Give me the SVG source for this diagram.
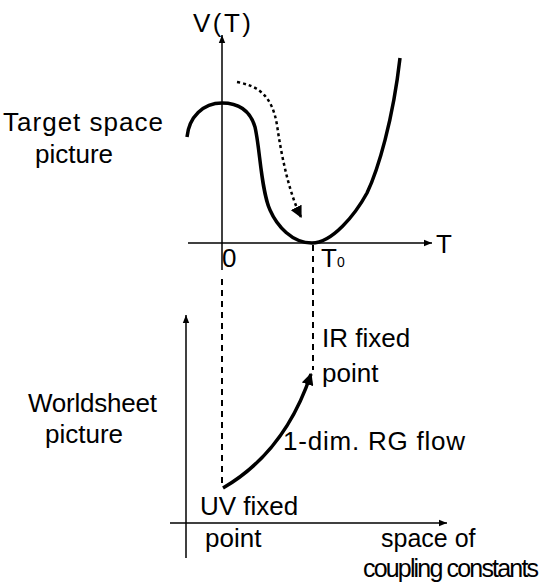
<svg xmlns="http://www.w3.org/2000/svg" width="545" height="586" viewBox="0 0 545 586">
<style>
text{font-family:"Liberation Sans",Arial,sans-serif;fill:#000}
.l{font-size:26px}
.s{font-size:25px}
.ax{stroke:#000;stroke-width:1.5;fill:none}
.dash{stroke:#000;stroke-width:2;fill:none;stroke-dasharray:6,5}
</style>
<defs>
<marker id="ah" viewBox="0 0 10 10" refX="10" refY="5" markerWidth="8" markerHeight="8" markerUnits="userSpaceOnUse" orient="auto"><path d="M0,1 L10,5 L0,9 z" fill="#000"/></marker>
<marker id="ahb" viewBox="0 0 10 10" refX="9" refY="5" markerWidth="12" markerHeight="12" markerUnits="userSpaceOnUse" orient="auto"><path d="M0,0 L10,5 L0,10 z" fill="#000"/></marker>
</defs>
<g id="labels">
<text class="l" x="3" y="131" textLength="160">Target space</text>
<text class="l" x="35" y="163">picture</text>
<text class="l" x="28" y="412" textLength="129">Worldsheet</text>
<text class="l" x="45" y="443">picture</text>
</g>
<g id="top-plot">
<text class="l" x="193" y="32" textLength="58">V(T)</text>
<text class="l" x="436" y="253">T</text>
<text class="l" x="222" y="267">0</text>
<text class="l" x="321" y="267">T</text><text style="font-size:14px" x="337" y="267">0</text>
<path class="ax" d="M222,270 L222,35" marker-end="url(#ah)"/>
<path class="ax" d="M188,243 L432,243" marker-end="url(#ah)"/>
<path d="M187,137 C189,117 203,103 222,103 C238,103 250,110 255,127 C260,148 261,190 270,210 C277,226 292,243 312,243 C332,243 355,215 367,193 C378,170 393,120 400,58" fill="none" stroke="#000" stroke-width="3.5"/>
<path d="M237,82 C258,86 272,95 277,125 C282,160 290,195 301,217" fill="none" stroke="#000" stroke-width="2.5" stroke-dasharray="3,3" marker-end="url(#ahb)"/>
</g>
<g id="connectors">
<path class="dash" d="M222,279 L222,486"/>
<path class="dash" d="M313,245 L313,370"/>
</g>
<g id="bottom-plot">
<path class="ax" d="M186,558 L186,315" marker-end="url(#ah)"/>
<path class="ax" d="M170,523 L447,523" marker-end="url(#ah)"/>
<path d="M223,488 Q285,452 311,374" fill="none" stroke="#000" stroke-width="3.5" marker-end="url(#ahb)"/>
<text class="l" x="322" y="347">IR fixed</text>
<text class="l" x="322" y="382">point</text>
<text class="l" x="283" y="450" textLength="182">1-dim. RG flow</text>
<text class="l" x="200" y="515">UV fixed</text>
<text class="l" x="205" y="547">point</text>
<text class="s" x="381" y="547">space of</text>
<text class="s" x="363" y="577" textLength="176">coupling constants</text>
</g>
</svg>
